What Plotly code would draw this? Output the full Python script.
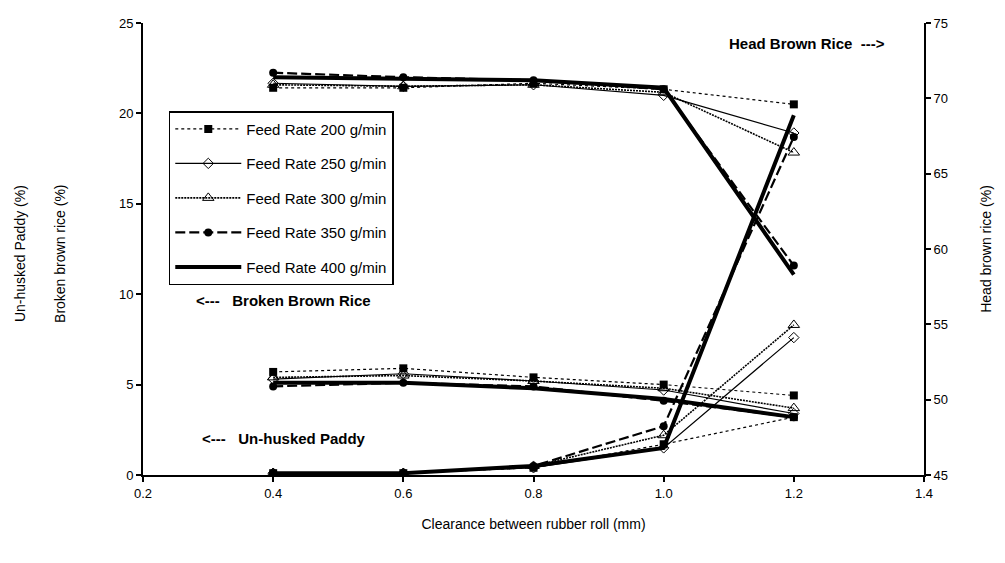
import plotly.graph_objects as go

clearance = [0.4, 0.6, 0.8, 1.0, 1.2]
feed_rates = ["200", "250", "300", "350", "400"]

head_rice = {
    "200": [70.7, 70.7, 71.0, 70.6, 69.6],
    "250": [71.0, 70.8, 70.9, 70.2, 67.7],
    "300": [70.9, 70.8, 70.9, 70.4, 66.4],
    "350": [71.7, 71.4, 71.2, 70.6, 58.9],
    "400": [71.4, 71.3, 71.2, 70.7, 58.3],
}
broken_rice = {
    "200": [5.7, 5.9, 5.4, 5.0, 4.4],
    "250": [5.3, 5.6, 5.2, 4.7, 3.4],
    "300": [5.4, 5.5, 5.2, 4.8, 3.7],
    "350": [4.9, 5.1, 4.9, 4.1, 3.2],
    "400": [5.1, 5.1, 4.8, 4.2, 3.2],
}
unhusked = {
    "200": [0.1, 0.1, 0.4, 1.7, 3.2],
    "250": [0.1, 0.1, 0.4, 1.5, 7.6],
    "300": [0.1, 0.1, 0.5, 2.2, 8.3],
    "350": [0.1, 0.1, 0.5, 2.7, 18.7],
    "400": [0.1, 0.1, 0.5, 1.5, 19.9],
}

styles = {
    "200": dict(line=dict(color="black", width=1.2, dash="dot"),
                marker=dict(symbol="square", size=8, color="black"), mode="lines+markers"),
    "250": dict(line=dict(color="black", width=1.2),
                marker=dict(symbol="diamond-open", size=8, color="black"), mode="lines+markers"),
    "300": dict(line=dict(color="black", width=1.6, dash="2px,1px"),
                marker=dict(symbol="triangle-up-open", size=10, color="black"), mode="lines+markers"),
    "350": dict(line=dict(color="black", width=2.2, dash="10px,4px"),
                marker=dict(symbol="circle", size=8, color="black"), mode="lines+markers"),
    "400": dict(line=dict(color="black", width=4), mode="lines"),
}

fig = go.Figure()
groups = [(unhusked, "y", True), (broken_rice, "y", False), (head_rice, "y2", False)]
for data, yax, show in groups:
    for fr in feed_rates:
        st = styles[fr]
        kw = dict(x=clearance, y=data[fr], name=f"Feed Rate {fr} g/min", yaxis=yax,
                  legendgroup=fr, showlegend=show, mode=st["mode"], line=st["line"])
        if "marker" in st:
            kw["marker"] = st["marker"]
        fig.add_trace(go.Scatter(**kw))

font_main = "Liberation Sans, Arial, sans-serif"
fig.update_layout(
    width=1005, height=563,
    margin=dict(l=135, r=89, t=8, b=96),
    paper_bgcolor="white", plot_bgcolor="white",
    font=dict(family=font_main, size=13, color="black"),
    showlegend=True,
    legend=dict(x=0.033, y=0.805, xanchor="left", yanchor="top",
                bordercolor="black", borderwidth=1.5, bgcolor="white",
                font=dict(size=15), tracegroupgap=12, itemwidth=66),
    xaxis=dict(range=[0.2, 1.4], tickvals=[0.2, 0.4, 0.6, 0.8, 1.0, 1.2, 1.4],
               ticktext=["0.2", "0.4", "0.6", "0.8", "1.0", "1.2", "1.4"],
               showgrid=False, zeroline=False, showline=True, linecolor="black", linewidth=2,
               ticks="outside", ticklen=5, tickwidth=2, tickcolor="black",
               title=dict(text="Clearance between rubber roll (mm)", font=dict(size=14), standoff=20)),
    yaxis=dict(range=[0, 25], tickvals=[0, 5, 10, 15, 20, 25],
               showgrid=False, zeroline=False, showline=True, linecolor="black", linewidth=2,
               ticks="outside", ticklen=5, tickwidth=2, tickcolor="black"),
    yaxis2=dict(range=[45, 75], tickvals=[45, 50, 55, 60, 65, 70, 75], overlaying="y", side="right",
                showgrid=False, zeroline=False, showline=True, linecolor="black", linewidth=2,
                ticks="outside", ticklen=5, tickwidth=2, tickcolor="black",
                title=dict(text="Head brown rice (%)", font=dict(size=14), standoff=34)),
)

annots = [
    dict(text="Head Brown Rice  --->", x=0.85, y=0.955),
    dict(text="&lt;---   Broken Brown Rice", x=0.18, y=0.385),
    dict(text="&lt;---   Un-husked Paddy", x=0.18, y=0.08),
]
for a in annots:
    fig.add_annotation(text="<b>" + a["text"] + "</b>", x=a["x"], y=a["y"], xref="paper", yref="paper",
                       xanchor="center", yanchor="middle",
                       showarrow=False, font=dict(size=15, family=font_main))

fig.add_annotation(text="Un-husked Paddy (%)", x=-0.158, y=0.49, xref="paper", yref="paper",
                   xanchor="center", yanchor="middle",
                   textangle=-90, showarrow=False, font=dict(size=14))
fig.add_annotation(text="Broken brown rice (%)", x=-0.107, y=0.49, xref="paper", yref="paper",
                   xanchor="center", yanchor="middle",
                   textangle=-90, showarrow=False, font=dict(size=14))

fig.write_html("out.html")
